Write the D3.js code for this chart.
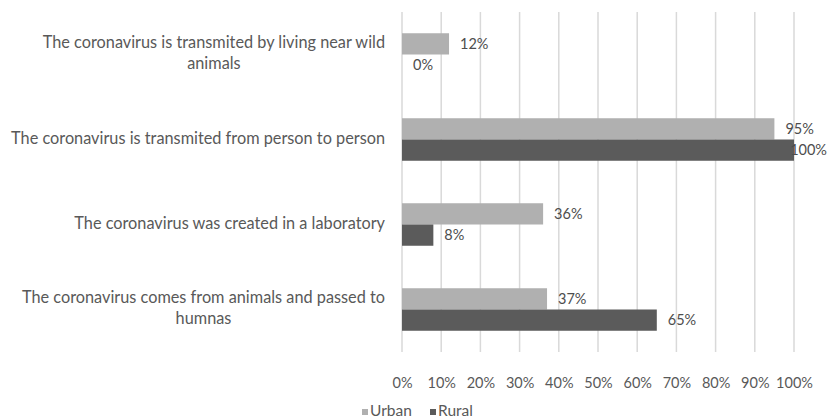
<!DOCTYPE html>
<html>
<head>
<meta charset="utf-8">
<script src="https://cdn.jsdelivr.net/npm/d3@7"></script>
<style>
  html, body { margin: 0; padding: 0; background: #fff; }
  svg { display: block; font-family: Lato, "Open Sans", sans-serif; }
</style>
</head>
<body>
<svg id="chart" width="829" height="419"></svg>
<script>
// Statements about the origin of the coronavirus (each label split into display lines)
const categories = [
  ["The coronavirus is transmited by living near wild", "animals"],
  ["The coronavirus is transmited from person to person"],
  ["The coronavirus was created in a laboratory"],
  ["The coronavirus comes from animals and passed to", "humnas"]
];
const seriesNames = ["Urban", "Rural"];
const urbanValues = [12, 95, 36, 37];
const ruralValues = [0, 100, 8, 65];
const tickValues = [0, 10, 20, 30, 40, 50, 60, 70, 80, 90, 100];

const colors = { Urban: "#b0b0b0", Rural: "#5b5b5b" };
const textColor = "#595959";

const svg = d3.select("#chart");
const W = 829, H = 419;

const catKeys = categories.map((c, i) => i);
const rows = catKeys.map(i => ({
  key: i,
  lines: categories[i],
  values: [
    { series: "Urban", value: urbanValues[i] },
    { series: "Rural", value: ruralValues[i] }
  ]
}));

const x = d3.scaleLinear().domain([0, 100]).range([402, 794]);
const y = d3.scaleBand().domain(catKeys).range([12, 352])
  .paddingInner(0.5).paddingOuter(0.25);
const ySub = d3.scaleBand().domain(seriesNames).range([0, y.bandwidth()]);

// Vertical gridlines
svg.append("g")
  .selectAll("line")
  .data(tickValues)
  .join("line")
  .attr("x1", d => x(d)).attr("x2", d => x(d))
  .attr("y1", 12).attr("y2", 352)
  .attr("stroke", "#d9d9d9")
  .attr("stroke-width", 1.5);

// X axis tick labels
const xAxis = d3.axisBottom(x)
  .tickValues(tickValues)
  .tickFormat(d => d + "%")
  .tickSize(0)
  .tickPadding(0);
const gx = svg.append("g")
  .attr("transform", "translate(0,378)")
  .call(xAxis);
gx.select(".domain").remove();
gx.selectAll("text")
  .attr("fill", textColor)
  .style("font-size", "14.5px")
  .style("font-family", "Lato, 'Open Sans', sans-serif");

// Category labels on the left
const catG = svg.append("g");
rows.forEach(r => {
  const cy = y(r.key) + y.bandwidth() / 2;
  const lh = 21;
  const n = r.lines.length;
  // block is right-aligned at x=385, lines centered within the block
  const t = catG.append("text")
    .attr("fill", textColor)
    .style("font-size", "16.3px")
    .attr("text-anchor", "middle");
  r.lines.forEach((ln, j) => {
    t.append("tspan")
      .attr("y", cy - 1.5 + (j - (n - 1) / 2) * lh)
      .attr("dy", "0.35em")
      .text(ln);
  });
  let maxW = 0;
  t.selectAll("tspan").each(function () {
    maxW = Math.max(maxW, this.getComputedTextLength());
  });
  t.selectAll("tspan").attr("x", 385 - maxW / 2);
});

// Bars
const groups = svg.append("g")
  .selectAll("g")
  .data(rows)
  .join("g")
  .attr("transform", d => `translate(0,${y(d.key)})`);

groups.selectAll("rect")
  .data(d => d.values)
  .join("rect")
  .attr("x", x(0))
  .attr("y", d => ySub(d.series))
  .attr("height", ySub.bandwidth())
  .attr("width", d => x(d.value) - x(0))
  .attr("fill", d => colors[d.series]);

// Value labels, kept inside the drawing area
groups.selectAll("text")
  .data(d => d.values)
  .join("text")
  .attr("y", d => ySub(d.series) + ySub.bandwidth() / 2)
  .attr("dy", "0.35em")
  .attr("fill", "#4d4d4d")
  .style("font-size", "14.5px")
  .text(d => d.value + "%")
  .each(function (d) {
    const w = this.getComputedTextLength();
    const px = Math.min(x(d.value) + 11, W - 2 - w);
    d3.select(this).attr("x", px);
  });

// Legend
const legend = svg.append("g").attr("transform", "translate(0,411)");
const legendItems = [
  { name: "Urban", x: 362 },
  { name: "Rural", x: 430 }
];
legendItems.forEach(it => {
  legend.append("rect")
    .attr("x", it.x).attr("y", -2)
    .attr("width", 6).attr("height", 6)
    .attr("fill", colors[it.name]);
  legend.append("text")
    .attr("x", it.x + 8).attr("y", 0).attr("dy", "0.35em")
    .attr("fill", textColor)
    .style("font-size", "15.5px")
    .text(it.name);
});
</script>
</body>
</html>
